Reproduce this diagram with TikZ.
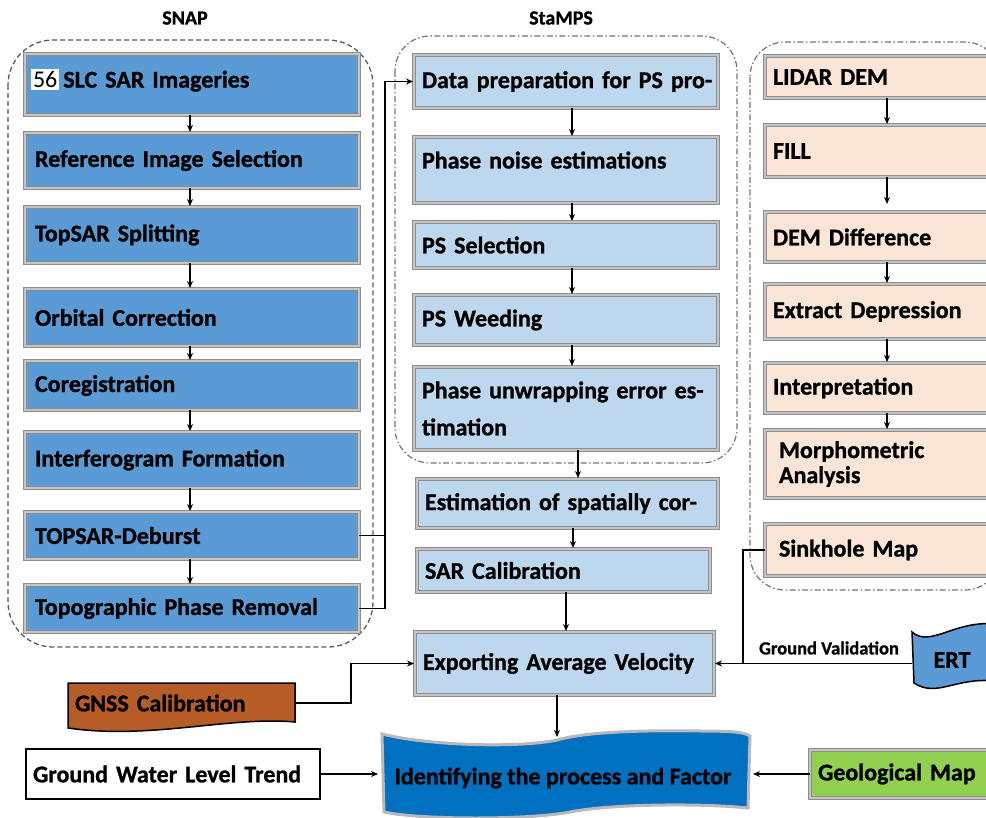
\documentclass[tikz,border=0pt]{standalone}
\usepackage{fontspec}
\setmainfont{Carlito}[BoldFeatures={FakeBold=1}]
\usetikzlibrary{arrows.meta,calc}

\definecolor{snapblue}{HTML}{5B9BD5}
\definecolor{stampsblue}{HTML}{BDD7EE}
\definecolor{peach}{HTML}{FBE5D6}
\definecolor{rimgray}{HTML}{8E8E8E}
\definecolor{rimlight}{HTML}{C4C4C4}
\definecolor{gnssbrown}{HTML}{B65C26}
\definecolor{idblue}{HTML}{0070C0}
\definecolor{geogreen}{HTML}{92D050}
\definecolor{framegray}{HTML}{5A5A5A}

\newcommand\boxfont{\fontsize{24}{28}\selectfont\bfseries}

\begin{document}
\begin{tikzpicture}[x=1pt,y=-1pt,
  every node/.style={inner ysep=2pt, outer sep=0pt},
  stepbase/.style={rectangle, anchor=north west, font=\boxfont, align=left},
  rim/.style={draw=rimgray, line width=1.6pt, double=rimlight, double distance=1.2pt},
  snapbox/.style={stepbase, rim, fill=snapblue, inner xsep=10pt, minimum width=334pt, text width=314pt},
  stampsbox/.style={stepbase, rim, fill=stampsblue, inner xsep=8pt},
  peachbox/.style={stepbase, rim, fill=peach, inner xsep=8pt, minimum width=230pt, text width=214pt},
  ln/.style={line width=1.6pt, black},
  arr/.style={ln, -{Stealth[length=7pt,width=6pt]}, shorten >=1pt},
  frameA/.style={framegray, line width=1.3pt, dash pattern=on 5pt off 3pt, rounded corners=45pt},
  frameB/.style={framegray!85, line width=1.2pt, dash pattern=on 6pt off 2.5pt on 1.5pt off 2.5pt, rounded corners=35pt},
  title/.style={font=\fontsize{20}{22}\selectfont\bfseries}
]
\useasboundingbox (0,0) rectangle (986,818);
\clip (0,0) rectangle (986,818);

% group frames
\draw[frameA] (8,40) rectangle (373,647);
\draw[frameB] (395,36) rectangle (737,463);
\draw[frameB] (750,42) rectangle (1000,590);

\node[title] (snaptitle) at (185,18) {SNAP};
\node[title] (stampstitle) at (561,18) {StaMPS};

% SNAP chain
\node[snapbox, minimum height=61pt, inner xsep=6pt, text width=322pt, text depth=12pt] (s1) at (25,54)
  {{\fboxsep=2pt\colorbox{white}{\mdseries 56}}\,SLC SAR Imageries};
\node[snapbox, minimum height=55pt] (s2) at (25,133) {Reference Image Selection};
\node[snapbox, minimum height=56pt] (s3) at (25,207) {TopSAR Splitting};
\node[snapbox, minimum height=57pt] (s4) at (25,289) {Orbital Correction};
\node[snapbox, minimum height=49pt] (s5) at (25,361) {Coregistration};
\node[snapbox, minimum height=56pt] (s6) at (25,432) {Interferogram Formation};
\node[snapbox, minimum height=47pt] (s7) at (25,512) {TOPSAR-Deburst};
\node[snapbox, minimum height=47pt] (s8) at (25,585) {Topographic Phase Removal};

% StaMPS chain
\node[stampsbox, minimum width=304pt, text width=288pt, minimum height=53pt] (p1) at (414,55) {\mbox{Data preparation for PS pro-}};
\node[stampsbox, minimum width=304pt, text width=288pt, minimum height=66pt, text depth=20pt] (p2) at (414,137) {Phase noise estimations};
\node[stampsbox, minimum width=304pt, text width=288pt, minimum height=46pt] (p3) at (414,222) {PS Selection};
\node[stampsbox, minimum width=304pt, text width=288pt, minimum height=50pt] (p4) at (414,295) {PS Weeding};
\node[stampsbox, minimum width=304pt, text width=288pt, minimum height=83pt, font=\fontsize{24}{37}\selectfont\bfseries] (p5) at (414,367) {\mbox{Phase unwrapping error es-}\\timation};
\node[stampsbox, minimum width=301pt, text width=285pt, minimum height=49pt] (e1) at (417,479) {\mbox{Estimation of spatially cor-}};
\node[stampsbox, minimum width=293pt, text width=277pt, minimum height=43pt] (e2) at (417,549) {SAR Calibration};
\node[stampsbox, minimum width=299pt, text width=283pt, minimum height=63pt] (ex) at (415,632) {\mbox{Exporting Average Velocity}};

% LiDAR chain
\node[peachbox, minimum height=42pt] (r1) at (765,56) {LIDAR DEM};
\node[peachbox, minimum height=52pt] (r2) at (765,125) {FILL};
\node[peachbox, minimum height=50pt] (r3) at (765,212) {DEM Difference};
\node[peachbox, minimum height=55pt] (r4) at (765,284) {Extract Depression};
\node[peachbox, minimum height=50pt] (r5) at (765,363) {Interpretation};
\node[peachbox, minimum height=68pt, inner xsep=14pt, text width=202pt, font=\fontsize{24}{25}\selectfont\bfseries] (r6) at (765,430) {Morphometric\\Analysis};
\node[peachbox, minimum height=52pt, inner xsep=14pt, text width=202pt] (r7) at (765,524) {Sinkhole Map};

% free-form shapes
\draw[fill=gnssbrown, line width=1.5pt] (68,683) -- (295,683) -- (295,722)
  .. controls (230,716) and (150,740) .. (68,728) -- cycle;
\node[stepbase, inner xsep=7pt, minimum width=227pt, text width=213pt, minimum height=40pt] (gnss) at (68,683) {GNSS Calibration};

\draw[fill=snapblue, line width=1.5pt] (912,632) .. controls (930,648) and (955,620) .. (995,624)
  -- (995,681) .. controls (955,677) and (937,698) .. (914,683) -- cycle;
\node[font=\boxfont, minimum width=80pt, minimum height=56pt] (ert) at (952,660) {ERT};

\draw[fill=idblue, draw=gray!55, line width=3pt] (382,734)
  .. controls (430,746) and (520,748) .. (557,740)
  .. controls (585,732) and (640,730) .. (700,731)
  .. controls (730,731) and (745,732) .. (750,736)
  -- (748,808) .. controls (700,803) and (610,804) .. (570,812)
  .. controls (530,820) and (420,820) .. (384,812) -- cycle;
\node[font=\boxfont, minimum width=368pt, minimum height=80pt] (idf) at (563,778) {Identifying the process and Factor};

\node[stepbase, draw=black, line width=1.5pt, fill=white, inner xsep=7pt, minimum width=294pt, text width=280pt, minimum height=50pt] (gw) at (26,749) {Ground Water Level Trend};
\node[stepbase, rim, fill=geogreen, inner xsep=8pt, minimum width=185pt, text width=169pt, minimum height=48pt] (geo) at (810,750) {Geological Map};

\node[font=\fontsize{18.5}{20}\selectfont\bfseries] (gvl) at (829,648) {Ground Validation};

% connectors: SNAP
\coordinate (sx) at (190,0);
\foreach \a/\b in {s1/s2,s2/s3,s3/s4,s4/s5,s5/s6,s6/s7,s7/s8}
  \draw[arr] (\a.south -| sx) -- (\b.north -| sx);

% SNAP output bus into StaMPS
\coordinate (bus) at (385,0);
\draw[ln] (s7.east) -- (s7.east -| bus);
\draw[arr] (s8.east) -- (s8.east -| bus) |- (p1.west);

% connectors: StaMPS
\coordinate (px) at (572,0);
\foreach \a/\b in {p1/p2,p2/p3,p3/p4,p4/p5}
  \draw[arr] (\a.south -| px) -- (\b.north -| px);
\coordinate (qa) at (578,0);
\coordinate (qb) at (573,0);
\coordinate (qc) at (566,0);
\coordinate (qd) at (557,0);
\draw[arr] (p5.south -| qa) -- (e1.north -| qa);
\draw[arr] (e1.south -| qb) -- (e2.north -| qb);
\draw[arr] (e2.south -| qc) -- (ex.north -| qc);
\draw[arr] (ex.south -| qd) -- (idf.north -| qd);

% connectors: LiDAR
\coordinate (rx) at (887,0);
\draw[arr] (r1.south -| rx) -- (r2.north -| rx);
\draw[arr, shorten >=8pt] (r2.south -| rx) -- (r3.north -| rx);
\foreach \a/\b in {r3/r4,r4/r5,r5/r6}
  \draw[arr] (\a.south -| rx) -- (\b.north -| rx);

% validation links
\coordinate (gv) at (743,0);
\draw[ln] (r7.west) -- (r7.west -| gv) -- (gv |- ex.east);
\draw[arr] (ert.west |- ex.east) -- (ex.east);
\draw[arr] (gnss.east) -- ++(56,0) |- (ex.west);

% inputs to the final step
\draw[arr] (gw.east) -- (gw.east -| idf.west);
\draw[arr, shorten >=6pt] (geo.west) -- (geo.west -| idf.east);
\end{tikzpicture}
\end{document}
